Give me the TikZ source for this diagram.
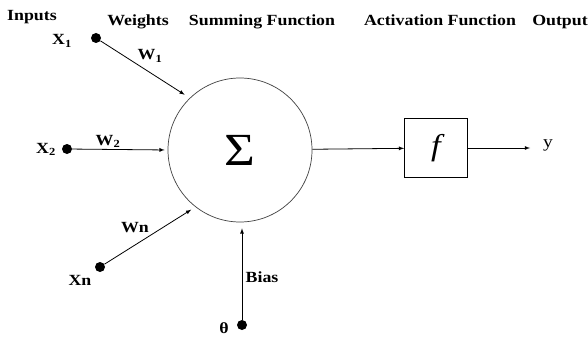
\documentclass[tikz,border=0pt]{standalone}
\usepackage{fontspec}
\setmainfont{Liberation Serif}[FakeStretch=1.15]
\usepackage{tikz}
\usetikzlibrary{arrows,shapes,positioning,calc}
\tikzstyle{headlbl}=[font=\fontsize{15.5}{17}\selectfont\bfseries, anchor=base]
\tikzstyle{inlbl}=[font=\fontsize{15.5}{17}\selectfont\bfseries, anchor=base]
\tikzstyle{inputdot}=[circle, fill=black, inner sep=0pt, minimum size=10pt]
\tikzstyle{wire}=[->, >=latex, line width=0.8pt]

\begin{document}
\begin{tikzpicture}[x=1pt, y=-1pt]
    \useasboundingbox (0,0) rectangle (588,342);

    % Titulos
    \node[headlbl] (hin)  at (32, 21)  {Inputs};
    \node[headlbl] (hw)   at (138, 26) {Weights};
    \node[headlbl] (hsum) at (262, 26) {Summing Function};
    \node[headlbl] (hact) at (440, 26) {Activation Function};
    \node[headlbl] (hout) at (560, 26) {Output};

    % Entradas
    \node[inputdot] (x1)    at (96, 38)  {};
    \node[inputdot] (x2)    at (67, 149) {};
    \node[inputdot] (xn)    at (100, 267) {};
    \node[inputdot] (theta) at (242, 325) {};
    \node[inlbl] (lx1) at (62, 45)  {X\textsubscript{1}};
    \node[inlbl] (lx2) at (46, 153) {X\textsubscript{2}};
    \node[inlbl] (lxn) at (80, 285) {Xn};
    \node[inlbl] (lth) at (224, 333) {θ};

    % Soma e ativacao
    \node[circle, draw=black!75, line width=0.7pt, minimum size=144pt, inner sep=0pt,
          font=\fontsize{46}{46}\selectfont] (sum) at (240, 150) {Σ};
    \node[draw, line width=0.8pt, minimum width=63pt, minimum height=59pt,
          font=\fontsize{30}{30}\selectfont\itshape] (act) at (436, 148) {f};
    \coordinate (yend) at (530, 148);
    \node[font=\fontsize{17}{17}\selectfont, anchor=base] (ylbl) at (548, 147) {y};

    % Pesos
    \draw[wire, shorten >=6pt] (x1) -- (sum.134);
    \draw[wire, shorten >=3pt] (x2) -- (sum.west);
    \draw[wire, shorten >=5pt] (xn) -- (sum.232);
    \draw[wire, shorten >=6pt] (theta) -- (theta |- sum.south);
    \node[inlbl] (lw1) at (150, 60)  {W\textsubscript{1}};
    \node[inlbl] (lw2) at (108, 145) {W\textsubscript{2}};
    \node[inlbl] (lwn) at (135, 232) {Wn};
    \node[inlbl] (lb)  at (262, 282) {Bias};

    \draw[wire] (sum) -- (act);
    \draw[wire] (act) -- (yend);
  \end{tikzpicture}
\end{document}
